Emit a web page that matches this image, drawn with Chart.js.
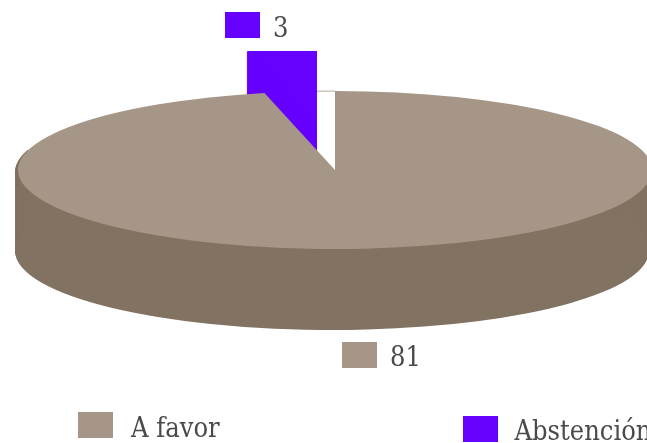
<!DOCTYPE html>
<html lang="es">
<head>
    <meta charset="UTF-8">
    <title>Votación</title>
    <script src="https://cdn.jsdelivr.net/npm/chart.js"></script>
    <style>
        html, body { margin: 0; padding: 0; background: #fff; overflow: hidden; }
        .chart-container { position: relative; width: 647px; height: 443px; }
        canvas { display: block; }
    </style>
</head>
<body>
    <div class="chart-container"><canvas id="voteChart"></canvas></div>
    <script>
        const categories = ['A favor', 'Abstención'];
        const votes = [81, 3];
        const topColors = ['#a59687', '#6600ff'];
        const wallColor = '#827261';

        // Ellipse of the disc top on the page, and how deep the wall goes
        const disc = { x: 335, y: 170, rx: 317, ry: 79, depth: 81, skew: -3 };
        const lifted = { dx: -18, dy: -20, rise: 24, sink: 24, clipX: 246.3, clipY: 51.2 };
        const textFont = '27px "DejaVu Serif Condensed", "DejaVu Serif", serif';
        const textColor = '#4a4a4a';

        // value tags: square x/y, text x/baseline
        const valueTags = [
            { sx: 342, sy: 342, tx: 390, ty: 366 },
            { sx: 225, sy: 12, tx: 273, ty: 37 },
        ];
        const legendItems = [
            { sx: 78, sy: 412, tx: 131, ty: 437 },
            { sx: 463, sy: 416, tx: 514.5, ty: 440 },
        ];

        // places a library arc on the page with the squashed disc transform
        function drawArc(ctx, arc, color, dx, dy) {
            const k = arc.outerRadius;
            ctx.save();
            ctx.translate(disc.x + dx, disc.y + dy);
            ctx.scale(disc.rx / k, disc.ry / k);
            ctx.translate(-arc.x, -arc.y);
            const opts = arc.options;
            arc.options = Object.assign({}, opts, { backgroundColor: color, borderWidth: 0 });
            arc.draw(ctx);
            arc.options = opts;
            ctx.restore();
        }

        const disc3d = {
            id: 'disc3d',
            beforeDatasetsDraw(chart) {
                const ctx = chart.ctx;
                const arcs = chart.getDatasetMeta(0).data;

                // raised slice, extruded both ways and cut flat; the big slice hides the rest
                ctx.save();
                ctx.beginPath();
                ctx.rect(lifted.clipX, lifted.clipY, 647, 443);
                ctx.clip();
                for (let h = -lifted.sink; h <= lifted.rise; h++) {
                    drawArc(ctx, arcs[1], topColors[1], lifted.dx, lifted.dy - h);
                }
                ctx.restore();

                // wall under the big slice, kept out of the open wedge
                ctx.save();
                ctx.beginPath();
                ctx.rect(0, 150, 317, 293);
                ctx.rect(335, 150, 312, 293);
                ctx.rect(317, 170, 18, 273);
                ctx.clip();
                for (let d = 2; d <= disc.depth; d++) {
                    drawArc(ctx, arcs[0], wallColor, disc.skew, d);
                }
                ctx.restore();

                // hairline left along the rim of the open wedge
                ctx.save();
                ctx.beginPath();
                ctx.rect(317, 85, 18, 20);
                ctx.clip();
                ctx.beginPath();
                ctx.ellipse(disc.x, disc.y, disc.rx, disc.ry, 0, arcs[1].startAngle, arcs[1].endAngle);
                ctx.strokeStyle = '#b5aa9e';
                ctx.lineWidth = 1;
                ctx.stroke();
                ctx.restore();

                drawArc(ctx, arcs[0], topColors[0], 0, 0);
                return false;
            },
            afterDraw(chart) {
                const ctx = chart.ctx;
                ctx.save();
                ctx.font = textFont;
                ctx.textBaseline = 'alphabetic';
                votes.forEach((v, i) => {
                    const tag = valueTags[i];
                    ctx.fillStyle = topColors[i];
                    ctx.fillRect(tag.sx, tag.sy, 35, 26);
                    ctx.fillStyle = textColor;
                    ctx.fillText(String(v), tag.tx, tag.ty);
                });
                categories.forEach((name, i) => {
                    const item = legendItems[i];
                    ctx.fillStyle = topColors[i];
                    ctx.fillRect(item.sx, item.sy, 35, 26);
                    ctx.fillStyle = textColor;
                    ctx.fillText(name, item.tx, item.ty);
                });
                ctx.restore();
            },
        };

        new Chart(document.getElementById('voteChart').getContext('2d'), {
            type: 'pie',
            data: {
                labels: categories,
                datasets: [{ data: votes, backgroundColor: topColors, borderWidth: 0 }],
            },
            options: {
                responsive: true,
                maintainAspectRatio: false,
                animation: false,
                events: [],
                plugins: { legend: { display: false }, tooltip: { enabled: false } },
            },
            plugins: [disc3d],
        });
    </script>
</body>
</html>
